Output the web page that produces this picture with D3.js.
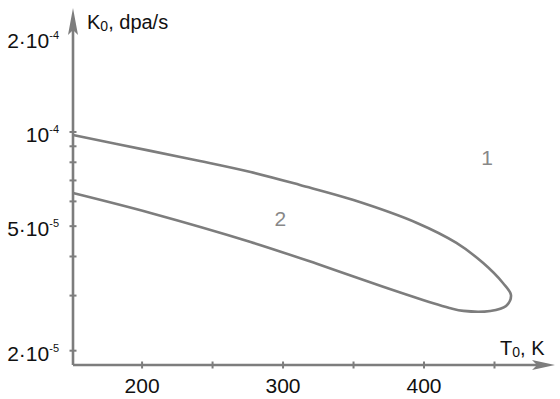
<!DOCTYPE html>
<html><head><meta charset="utf-8">
<script src="https://cdn.jsdelivr.net/npm/d3@7"></script>
<style>body{margin:0;background:#fff}svg{display:block}</style>
</head><body>
<svg id="c" width="560" height="399"></svg>
<script>
// Boundary curve: upper branch (1) going right, around the tip, back along lower branch (2)
const curveT = [151, 206, 241, 277, 312, 350, 395, 423, 442, 456, 461.7, 458.2, 447, 428, 418, 406, 371, 324, 277, 206, 151];
const curveK = [0.978e-4, 0.870e-4, 0.808e-4, 0.745e-4, 0.677e-4, 0.606e-4, 0.512e-4, 0.442e-4, 0.381e-4, 0.329e-4, 0.301e-4, 0.278e-4, 0.268e-4, 0.268e-4, 0.274e-4, 0.284e-4, 0.320e-4, 0.379e-4, 0.445e-4, 0.551e-4, 0.638e-4];
const xTicks = [200, 250, 300, 350, 400, 450];
const xTickLabels = [200, 300, 400];
const yTicks = [2e-5, 3e-5, 4e-5, 5e-5, 6e-5, 7e-5, 8e-5, 9e-5, 1e-4];
const yTickLabels = [{v: 2e-4, m: "2·10", e: "-4"}, {v: 1e-4, m: "10", e: "-4"}, {v: 5e-5, m: "5·10", e: "-5"}, {v: 2e-5, m: "2·10", e: "-5"}];
const curveLabels = [{t: 444.7, k: 0.784e-4, s: "1"}, {t: 298, k: 0.501e-4, s: "2"}];

const svg = d3.select("#c");
const x = d3.scaleLinear().domain([151, 491.5]).range([73, 553]);
const y = d3.scaleLog().domain([1.80e-5, 2.49e-4]).range([365, 8]);
const gray = "#7d7d7d";

// curve
const pts = curveT.map((t, i) => [x(t), y(curveK[i])]);
svg.append("path")
  .attr("d", d3.line().curve(d3.curveCatmullRom.alpha(0.5))(pts))
  .attr("fill", "none").attr("stroke", gray).attr("stroke-width", 2.6);

// axes
const x0 = x(151), y0 = y(1.80e-5);
svg.append("line").attr("x1", x0).attr("y1", y0).attr("x2", 540).attr("y2", y0)
  .attr("stroke", gray).attr("stroke-width", 2.6);
svg.append("line").attr("x1", x0).attr("y1", y0).attr("x2", x0).attr("y2", 22)
  .attr("stroke", gray).attr("stroke-width", 2.6);
svg.append("path").attr("d", `M${x0},8 L${x0 + 5},35 L${x0},30 L${x0 - 5},35 Z`).attr("fill", gray);
svg.append("path").attr("d", `M555,${y0} L532,${y0 - 5} L537,${y0} L532,${y0 + 5} Z`).attr("fill", gray);

// ticks
svg.selectAll(".xt").data(xTicks).enter().append("line")
  .attr("x1", d => x(d)).attr("x2", d => x(d)).attr("y1", y0 - 3.5).attr("y2", y0 + 3.5)
  .attr("stroke", gray).attr("stroke-width", 2);
svg.selectAll(".yt").data(yTicks).enter().append("line")
  .attr("x1", x0 - 3.5).attr("x2", x0 + 3.5).attr("y1", d => y(d)).attr("y2", d => y(d))
  .attr("stroke", gray).attr("stroke-width", 2);

const font = "Liberation Sans, Arial, sans-serif";
svg.selectAll(".xl").data(xTickLabels).enter().append("text")
  .attr("x", d => x(d)).attr("y", 393).attr("text-anchor", "middle")
  .attr("font-family", font).attr("font-size", 21).attr("fill", "#111").text(d => d);

const yl = svg.selectAll(".yl").data(yTickLabels).enter().append("text")
  .attr("x", 59).attr("y", d => y(d.v) + 10).attr("text-anchor", "end")
  .attr("font-family", font).attr("font-size", 21).attr("fill", "#111");
yl.append("tspan").text(d => d.m);
yl.append("tspan").attr("dy", -9).attr("font-size", 11).text(d => d.e);

// axis titles
const ty = svg.append("text").attr("x", 87).attr("y", 29).attr("font-family", font)
  .attr("font-size", 20).attr("fill", "#111");
ty.append("tspan").text("K");
ty.append("tspan").attr("font-size", 14).attr("dy", 2).text("0");
ty.append("tspan").attr("dy", -2).text(", dpa/s");
const tx = svg.append("text").attr("x", 500).attr("y", 355).attr("font-family", font)
  .attr("font-size", 20).attr("fill", "#111");
tx.append("tspan").text("T");
tx.append("tspan").attr("font-size", 14).attr("dy", 2).text("0");
tx.append("tspan").attr("dy", -2).text(", K");

// curve labels
svg.selectAll(".cl").data(curveLabels).enter().append("text")
  .attr("x", d => x(d.t)).attr("y", d => y(d.k)).attr("text-anchor", "middle")
  .attr("font-family", font).attr("font-size", 21).attr("fill", "#888").text(d => d.s);
</script>
</body></html>
